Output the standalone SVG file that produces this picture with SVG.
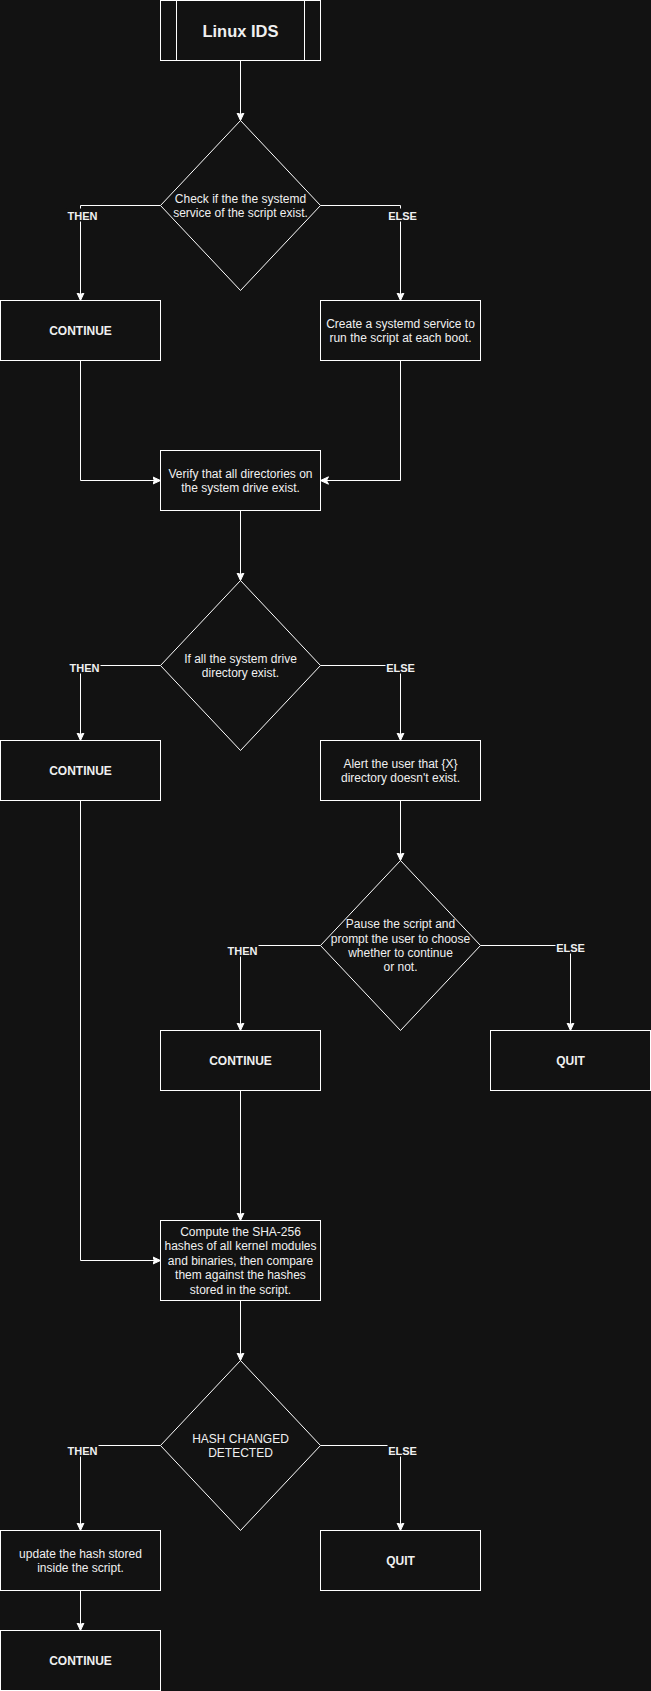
<svg xmlns="http://www.w3.org/2000/svg" width="651" height="1691" viewBox="0 0 651 1691">
<defs>
<marker id="arr" markerUnits="userSpaceOnUse" markerWidth="10" markerHeight="10" viewBox="0 0 10 10" refX="8" refY="5" orient="auto">
<path d="M0,1.3 L8,5 L0,8.7 L2,5 Z" fill="#ffffff" stroke="#ffffff" stroke-width="1"/>
</marker>
<style>
.bx{fill:#121212;stroke:#ffffff;stroke-width:1}
.dm{fill:#121212;stroke:#ffffff;stroke-width:1}
.ln{fill:none;stroke:#ffffff;stroke-width:1}
.ar{fill:none;stroke:#ffffff;stroke-width:1;marker-end:url(#arr)}
.t{font-family:"Liberation Sans",Arial,sans-serif;font-size:12px;fill:#f0f0f0;text-anchor:middle}
.b{font-family:"Liberation Sans",Arial,sans-serif;font-size:12px;font-weight:bold;fill:#f0f0f0;text-anchor:middle}
.lb{font-family:"Liberation Sans",Arial,sans-serif;font-size:11px;font-weight:bold;fill:#f0f0f0;text-anchor:middle}
.lbg{fill:#121212}
</style>
</defs>
<rect x="0" y="0" width="651" height="1691" fill="#121212"/>
<g transform="translate(0.5 0.5)">
<g id="connectors">
<path class="ar" d="M240,60 L240,120"/>
<path class="ar" d="M160,205 L80,205 L80,300"/>
<path class="ar" d="M320,205 L400,205 L400,300"/>
<path class="ar" d="M80,360 L80,480 L160,480"/>
<path class="ar" d="M400,360 L400,480 L320,480"/>
<path class="ar" d="M240,510 L240,580"/>
<path class="ar" d="M160,665 L80,665 L80,740"/>
<path class="ar" d="M320,665 L400,665 L400,740"/>
<path class="ar" d="M400,800 L400,860"/>
<path class="ar" d="M320,945 L240,945 L240,1030"/>
<path class="ar" d="M480,945 L570,945 L570,1030"/>
<path class="ar" d="M240,1090 L240,1220"/>
<path class="ar" d="M80,800 L80,1260 L160,1260"/>
<path class="ar" d="M240,1300 L240,1360"/>
<path class="ar" d="M160,1445 L80,1445 L80,1530"/>
<path class="ar" d="M320,1445 L400,1445 L400,1530"/>
<path class="ar" d="M80,1590 L80,1630"/>
<g id="labels">
<rect class="lbg" x="66" y="208" width="32" height="13"/><text class="lb" x="82" y="219">THEN</text>
<rect class="lbg" x="387" y="208" width="30" height="13"/><text class="lb" x="402" y="219">ELSE</text>
<rect class="lbg" x="68" y="660" width="32" height="13"/><text class="lb" x="84" y="671">THEN</text>
<rect class="lbg" x="385" y="660" width="30" height="13"/><text class="lb" x="400" y="671">ELSE</text>
<rect class="lbg" x="226" y="943" width="32" height="13"/><text class="lb" x="242" y="954">THEN</text>
<rect class="lbg" x="555" y="940" width="30" height="13"/><text class="lb" x="570" y="951">ELSE</text>
<rect class="lbg" x="66" y="1443" width="32" height="13"/><text class="lb" x="82" y="1454">THEN</text>
<rect class="lbg" x="387" y="1443" width="30" height="13"/><text class="lb" x="402" y="1454">ELSE</text>
</g>
</g>
<g id="n-title">
<rect class="bx" x="160" y="0" width="160" height="60"/>
<path class="ln" d="M176,0 L176,60 M304,0 L304,60"/>
<text x="240" y="36" style="font-family:'Liberation Sans',Arial,sans-serif;font-size:16.5px;font-weight:bold;fill:#f0f0f0;text-anchor:middle">Linux IDS</text>
</g>
<g id="n-check-service">
<polygon class="dm" points="240,120 320,205 240,290 160,205"/>
<text class="t" x="240" y="202">Check if the the systemd</text>
<text class="t" x="240" y="216.4">service of the script exist.</text>
</g>
<g id="n-continue-1">
<rect class="bx" x="0" y="300" width="160" height="60"/>
<text class="b" x="80" y="334.5">CONTINUE</text>
</g>
<g id="n-create-service">
<rect class="bx" x="320" y="300" width="160" height="60"/>
<text class="t" x="400" y="327">Create a systemd service to</text>
<text class="t" x="400" y="341.4">run the script at each boot.</text>
</g>
<g id="n-verify-dirs">
<rect class="bx" x="160" y="450" width="160" height="60"/>
<text class="t" x="240" y="477">Verify that all directories on</text>
<text class="t" x="240" y="491.4">the system drive exist.</text>
</g>
<g id="n-dirs-exist">
<polygon class="dm" points="240,580 320,665 240,750 160,665"/>
<text class="t" x="240" y="662">If all the system drive</text>
<text class="t" x="240" y="676.4">directory exist.</text>
</g>
<g id="n-continue-2">
<rect class="bx" x="0" y="740" width="160" height="60"/>
<text class="b" x="80" y="774.5">CONTINUE</text>
</g>
<g id="n-alert">
<rect class="bx" x="320" y="740" width="160" height="60"/>
<text class="t" x="400" y="767">Alert the user that {X}</text>
<text class="t" x="400" y="781.4">directory doesn't exist.</text>
</g>
<g id="n-pause">
<polygon class="dm" points="400,860 480,945 400,1030 320,945"/>
<text class="t" x="400" y="927.6">Pause the script and</text>
<text class="t" x="400" y="942">prompt the user to choose</text>
<text class="t" x="400" y="956.4">whether to continue</text>
<text class="t" x="400" y="970.8">or not.</text>
</g>
<g id="n-continue-3">
<rect class="bx" x="160" y="1030" width="160" height="60"/>
<text class="b" x="240" y="1064.5">CONTINUE</text>
</g>
<g id="n-quit-1">
<rect class="bx" x="490" y="1030" width="160" height="60"/>
<text class="b" x="570" y="1064.5">QUIT</text>
</g>
<g id="n-compute">
<rect class="bx" x="160" y="1220" width="160" height="80"/>
<text class="t" x="240" y="1235.4">Compute the SHA-256</text>
<text class="t" x="240" y="1249.8">hashes of all kernel modules</text>
<text class="t" x="240" y="1264.2">and binaries, then compare</text>
<text class="t" x="240" y="1278.6">them against the hashes</text>
<text class="t" x="240" y="1293">stored in the script.</text>
</g>
<g id="n-hash-changed">
<polygon class="dm" points="240,1360 320,1445 240,1530 160,1445"/>
<text class="t" x="240" y="1442">HASH CHANGED</text>
<text class="t" x="240" y="1456.4">DETECTED</text>
</g>
<g id="n-update-hash">
<rect class="bx" x="0" y="1530" width="160" height="60"/>
<text class="t" x="80" y="1557">update the hash stored</text>
<text class="t" x="80" y="1571.4">inside the script.</text>
</g>
<g id="n-quit-2">
<rect class="bx" x="320" y="1530" width="160" height="60"/>
<text class="b" x="400" y="1564.5">QUIT</text>
</g>
<g id="n-continue-4">
<rect class="bx" x="0" y="1630" width="160" height="60"/>
<text class="b" x="80" y="1664.5">CONTINUE</text>
</g>
</g>
</svg>
